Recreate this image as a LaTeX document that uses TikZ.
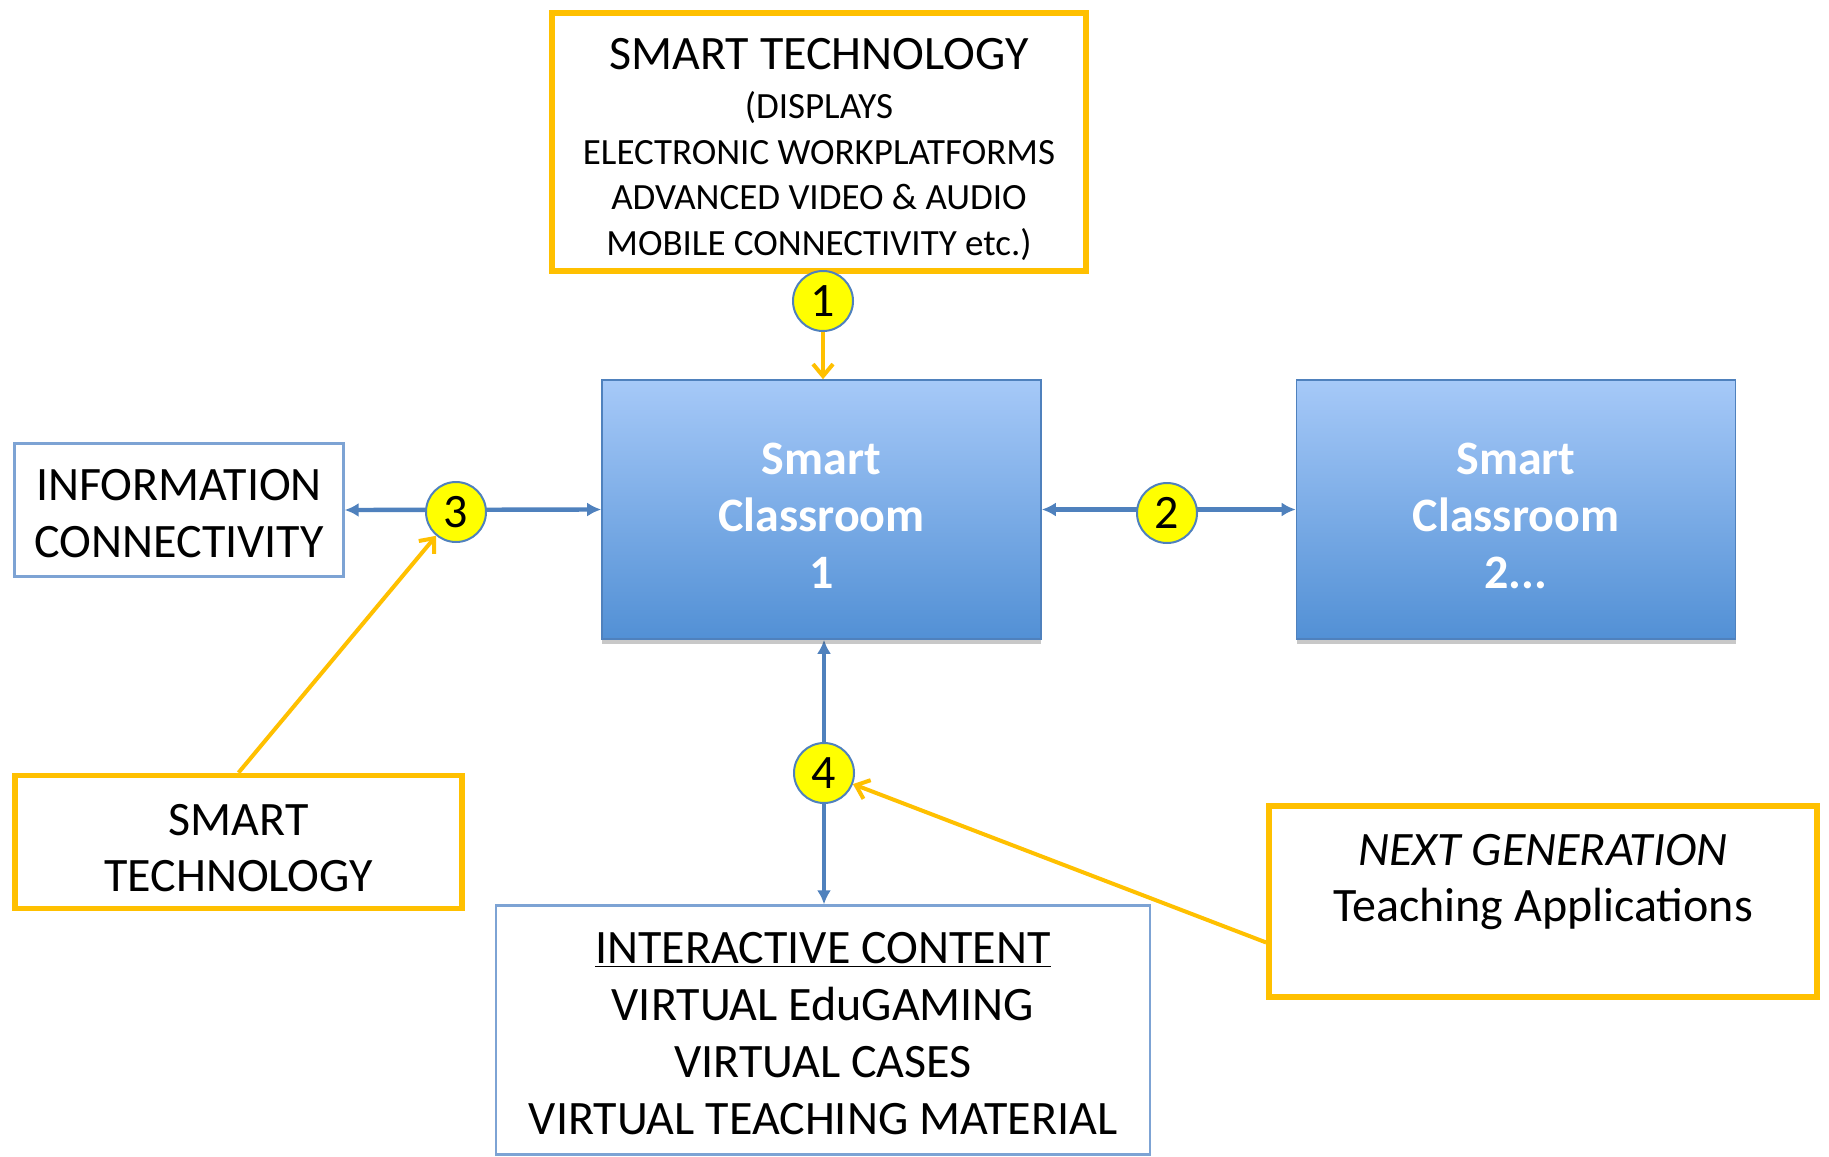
\documentclass[tikz,border=0pt]{standalone}
\usepackage{fontspec}
\setmainfont{Carlito}
\usetikzlibrary{arrows.meta,shadows,calc}
\definecolor{ybord}{RGB}{255,192,0}
\definecolor{barrow}{RGB}{79,129,189}
\definecolor{bthin}{RGB}{125,163,212}
\definecolor{gtop}{RGB}{166,201,248}
\definecolor{gbot}{RGB}{82,144,213}
\definecolor{cyell}{RGB}{255,255,0}
\pgfdeclarelayer{bg}
\pgfsetlayers{bg,main}
\newcommand{\toprule}[1]{\rule{0pt}{#1}}
\begin{document}
\begin{tikzpicture}[x=0.5pt,y=-0.5pt,
  ybox/.style={draw=ybord, line width=2.8pt, fill=white, inner sep=0pt, align=center, font=\fontsize{24}{28}\selectfont},
  bbox/.style={draw=bthin, line width=1.2pt, fill=white, inner sep=0pt, align=center, font=\fontsize{24}{28.5}\selectfont},
  classbox/.style={draw=barrow, line width=0.8pt, top color=gtop, bottom color=gbot, text=white, font=\fontsize{24}{28.5}\selectfont\bfseries, align=center, inner sep=0pt, minimum width=219.5pt, minimum height=129.5pt, drop shadow={shadow xshift=0pt, shadow yshift=-2.5pt, opacity=0.3, fill=black!70}},
  numc/.style={circle, draw=barrow, line width=1pt, fill=cyell, minimum size=30pt, inner sep=0pt, font=\fontsize{24}{24}\selectfont},
  barr/.style={draw=barrow, line width=2.2pt, {Latex[length=7pt,width=7pt]}-{Latex[length=7pt,width=7pt]}},
  yarr/.style={draw=ybord, line width=2pt, -{Straight Barb[length=6pt,width=10pt]}}
]
\begin{pgfonlayer}{bg}
\fill[white] (0,0) rectangle (1829,1156);
\end{pgfonlayer}
\useasboundingbox (0,0) rectangle (1829,1156);

% boxes
\node[ybox, minimum width=267pt, minimum height=129pt, font=\fontsize{18.5}{22.75}\selectfont] (top) at (819,142)
  {{\fontsize{24}{24}\selectfont\toprule{23pt}SMART TECHNOLOGY}\\[2pt](DISPLAYS\\ELECTRONIC WORKPLATFORMS\\ADVANCED VIDEO \& AUDIO\\MOBILE CONNECTIVITY etc.)};
\node[classbox] (sc1) at (821.5,509.5) {\toprule{22pt}Smart\\Classroom\\1};
\node[classbox] (sc2) at (1516,509.5) {\toprule{22pt}Smart\\Classroom\\2...};
\node[bbox, minimum width=164.5pt, minimum height=66.5pt] (info) at (179,510) {\toprule{19pt}INFORMATION\\CONNECTIVITY};
\node[ybox, minimum width=223.5pt, minimum height=66.5pt] (st2) at (238.5,842) {\toprule{22pt}SMART\\TECHNOLOGY};
\node[bbox, minimum width=327pt, minimum height=124.5pt] (inter) at (823,1030)
  {\toprule{19pt}\underline{INTERACTIVE CONTENT}\\VIRTUAL EduGAMING\\VIRTUAL CASES\\VIRTUAL TEACHING MATERIAL};
\node[ybox, minimum width=274pt, minimum height=95.75pt] (ng) at (1543,901.5)
  {\toprule{28pt}\textit{NEXT GENERATION}\\Teaching Applications\\\strut};

% number circles
\node[numc] (c1) at (823,301) {1};
\node[numc] (c2) at (1167,513) {2};
\node[numc] (c3) at (456,512) {3};
\node[numc] (c4) at (824,773) {4};

% connectors
\begin{pgfonlayer}{bg}
\draw[barr] (info.east) -- (sc1.west);
\draw[barr] (sc1.east) -- (sc2.west);
\draw[barr] (sc1.south -| c4) -- (inter.north -| c4);
\end{pgfonlayer}
\draw[yarr] (c1.south) -- (c1.south |- sc1.north);
\draw[yarr] (st2.north) -- (c3);
\draw[yarr] ($(ng.west)+(0,41)$) -- (c4);
\end{tikzpicture}
\end{document}
